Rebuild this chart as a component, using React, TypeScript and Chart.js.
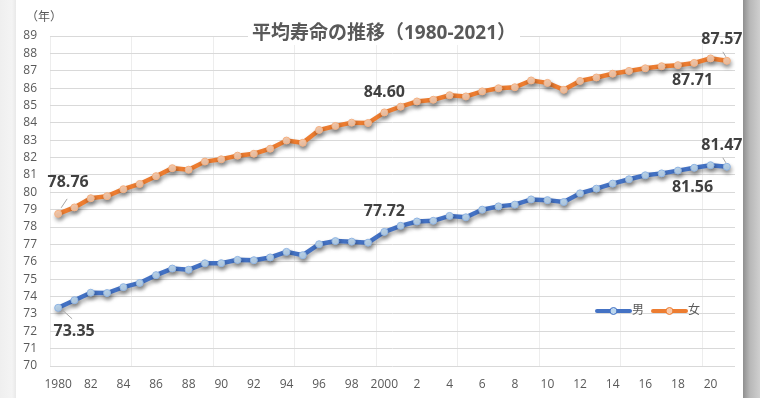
import React, { useEffect, useRef } from 'react';
import { Chart, registerables } from 'chart.js';

Chart.register(...registerables);

const years = [
  1980, 1981, 1982, 1983, 1984, 1985, 1986, 1987, 1988, 1989,
  1990, 1991, 1992, 1993, 1994, 1995, 1996, 1997, 1998, 1999,
  2000, 2001, 2002, 2003, 2004, 2005, 2006, 2007, 2008, 2009,
  2010, 2011, 2012, 2013, 2014, 2015, 2016, 2017, 2018, 2019,
  2020, 2021,
];

const tickLabels = [
  '1980', '', '82', '', '84', '', '86', '', '88', '',
  '90', '', '92', '', '94', '', '96', '', '98', '',
  '2000', '', '2', '', '4', '', '6', '', '8', '',
  '10', '', '12', '', '14', '', '16', '', '18', '',
  '20', '',
];

const male = [
  73.35, 73.79, 74.22, 74.2, 74.54, 74.78, 75.23, 75.61, 75.54, 75.91,
  75.92, 76.11, 76.09, 76.25, 76.57, 76.38, 77.01, 77.19, 77.16, 77.1,
  77.72, 78.07, 78.32, 78.36, 78.64, 78.56, 79.0, 79.19, 79.29, 79.59,
  79.55, 79.44, 79.94, 80.21, 80.5, 80.75, 80.98, 81.09, 81.25, 81.41,
  81.56, 81.47,
];

const female = [
  78.76, 79.13, 79.66, 79.78, 80.18, 80.48, 80.93, 81.39, 81.3, 81.77,
  81.9, 82.11, 82.22, 82.51, 82.98, 82.85, 83.59, 83.82, 84.01, 83.99,
  84.6, 84.93, 85.23, 85.33, 85.59, 85.52, 85.81, 85.99, 86.05, 86.44,
  86.3, 85.9, 86.41, 86.61, 86.83, 86.99, 87.14, 87.26, 87.32, 87.45,
  87.71, 87.57,
];

const seriesNames = ['男', '女'];
const titleText = '平均寿命の推移（1980-2021）';
const unitText = '（年）';
const yMin = 70;
const yMax = 89;

const BLUE = '#4472C4';
const ORANGE = '#ED7D31';
const TEXT = '#595959';
const FONT = "'Open Sans', 'Noto Sans CJK JP', sans-serif";

// annotated points: dataset index, point index, label offset, leader line offsets
const annotations = [
  { ds: 1, i: 0, dx: 10, dy: -31, leader: [3, -6, 9, -15] },
  { ds: 0, i: 0, dx: 16, dy: 24, leader: [4, 2, 14, 11] },
  { ds: 1, i: 20, dx: 0, dy: -20, leader: null },
  { ds: 0, i: 20, dx: 0, dy: -20, leader: null },
  { ds: 1, i: 41, dx: -5, dy: -21, leader: [-1, -4, -4, -9] },
  { ds: 1, i: 40, dx: -18, dy: 22, leader: null },
  { ds: 0, i: 41, dx: -5, dy: -21, leader: [-1, -4, -4, -9] },
  { ds: 0, i: 40, dx: -18, dy: 22, leader: null },
];

const decorPlugin = {
  id: 'decor',
  beforeDatasetsDraw(chart: any) {
    const ctx = chart.ctx;
    ctx.save();
    ctx.shadowColor = 'rgba(0,0,0,0.35)';
    ctx.shadowBlur = 4;
    ctx.shadowOffsetX = 1;
    ctx.shadowOffsetY = 3;
  },
  afterDatasetsDraw(chart: any) {
    const ctx = chart.ctx;
    ctx.restore();
    const xs = chart.scales.x;
    const ys = chart.scales.y;
    const data = [male, female];

    // data labels
    ctx.save();
    ctx.font = `bold 16px ${FONT}`;
    ctx.fillStyle = '#404040';
    ctx.textAlign = 'center';
    ctx.textBaseline = 'middle';
    annotations.forEach((a) => {
      const px = xs.getPixelForValue(a.i);
      const py = ys.getPixelForValue(data[a.ds][a.i]);
      ctx.fillText(data[a.ds][a.i].toFixed(2), px + a.dx, py + a.dy);
      if (a.leader) {
        ctx.strokeStyle = '#a6a6a6';
        ctx.lineWidth = 1;
        ctx.beginPath();
        ctx.moveTo(px + a.leader[0], py + a.leader[1]);
        ctx.lineTo(px + a.leader[2], py + a.leader[3]);
        ctx.stroke();
      }
    });
    ctx.restore();

    // legend
    ctx.save();
    const legendY = 311;
    const colors = [BLUE, ORANGE];
    const fills = ['#bdd7ee', '#f8cbad'];
    const starts = [597, 653];
    seriesNames.forEach((name, k) => {
      const x0 = starts[k];
      ctx.strokeStyle = colors[k];
      ctx.lineWidth = 4;
      ctx.lineCap = 'round';
      ctx.beginPath();
      ctx.moveTo(x0, legendY);
      ctx.lineTo(x0 + 33, legendY);
      ctx.stroke();
      ctx.beginPath();
      ctx.arc(x0 + 16.5, legendY, 3.5, 0, Math.PI * 2);
      ctx.fillStyle = fills[k];
      ctx.fill();
      ctx.lineWidth = 1;
      ctx.stroke();
      ctx.fillStyle = TEXT;
      ctx.font = `12px ${FONT}`;
      ctx.textAlign = 'left';
      ctx.textBaseline = 'middle';
      ctx.fillText(name, x0 + 35, legendY);
    });
    ctx.restore();
  },
  afterDraw(chart: any) {
    const ctx = chart.ctx;
    ctx.save();
    ctx.font = `bold 19px ${FONT}`;
    const w = ctx.measureText(titleText).width;
    ctx.fillStyle = '#ffffff';
    ctx.fillRect(384 - w / 2 - 4, 24, w + 8, 21);
    ctx.fillStyle = TEXT;
    ctx.textAlign = 'center';
    ctx.textBaseline = 'middle';
    ctx.fillText(titleText, 384, 34);
    ctx.font = `12px ${FONT}`;
    ctx.textAlign = 'left';
    ctx.fillText(unitText, 26, 18);
    ctx.restore();
  },
};

export default function App() {
  const ref = useRef<HTMLCanvasElement | null>(null);

  useEffect(() => {
    if (!ref.current) return;
    const chart = new Chart(ref.current, {
      type: 'line',
      data: {
        labels: years.map(String),
        datasets: [
          {
            label: seriesNames[0],
            data: male,
            borderColor: BLUE,
            borderWidth: 4.5,
            pointRadius: 3.5,
            pointBackgroundColor: '#bdd7ee',
            pointBorderColor: '#8fb4e3',
            pointBorderWidth: 1,
            tension: 0,
          },
          {
            label: seriesNames[1],
            data: female,
            borderColor: ORANGE,
            borderWidth: 4.5,
            pointRadius: 3.5,
            pointBackgroundColor: '#f8cbad',
            pointBorderColor: '#f4b183',
            pointBorderWidth: 1,
            tension: 0,
          },
        ],
      },
      options: {
        responsive: false,
        maintainAspectRatio: false,
        devicePixelRatio: 1,
        animation: false,
        layout: { padding: { left: 0, right: 25, top: 36, bottom: 0 } },
        plugins: {
          legend: { display: false },
          title: { display: false },
          tooltip: { enabled: false },
        },
        scales: {
          x: {
            type: 'category',
            offset: true,
            border: { display: false },
            grid: {
              offset: true,
              drawTicks: false,
              lineWidth: 1,
              color: (c: any) => (typeof c.index === 'number' && c.index % 5 === 0 ? '#ededed' : 'rgba(0,0,0,0)'),
            },
            ticks: {
              autoSkip: false,
              maxRotation: 0,
              minRotation: 0,
              padding: 11,
              color: TEXT,
              font: { family: FONT, size: 12 },
              callback: (_v: any, i: number) => tickLabels[i],
            },
            afterFit: (s: any) => {
              s.height = 32;
            },
          },
          y: {
            min: yMin,
            max: yMax,
            border: { display: false },
            grid: { color: '#d9d9d9', lineWidth: 1, drawTicks: false },
            ticks: {
              stepSize: 1,
              autoSkip: false,
              padding: 13,
              color: TEXT,
              font: { family: FONT, size: 12 },
            },
            afterFit: (s: any) => {
              s.width = 50;
            },
          },
        },
      },
      plugins: [decorPlugin],
    } as any);
    return () => chart.destroy();
  }, []);

  return (
    <div
      style={{
        position: 'fixed',
        left: 0,
        top: 0,
        width: 760,
        height: 398,
        background:
          'linear-gradient(to right, #efefef 0px, #f4f4f4 12px, #e9e9e9 16px, #ffffff 16px, #ffffff 743px, #8f8f8f 743px, #b8b8b8 750px, #cfcfcf 760px)',
      }}
    >
      <canvas ref={ref} width={760} height={398} style={{ display: 'block', width: 760, height: 398 }} />
    </div>
  );
}
